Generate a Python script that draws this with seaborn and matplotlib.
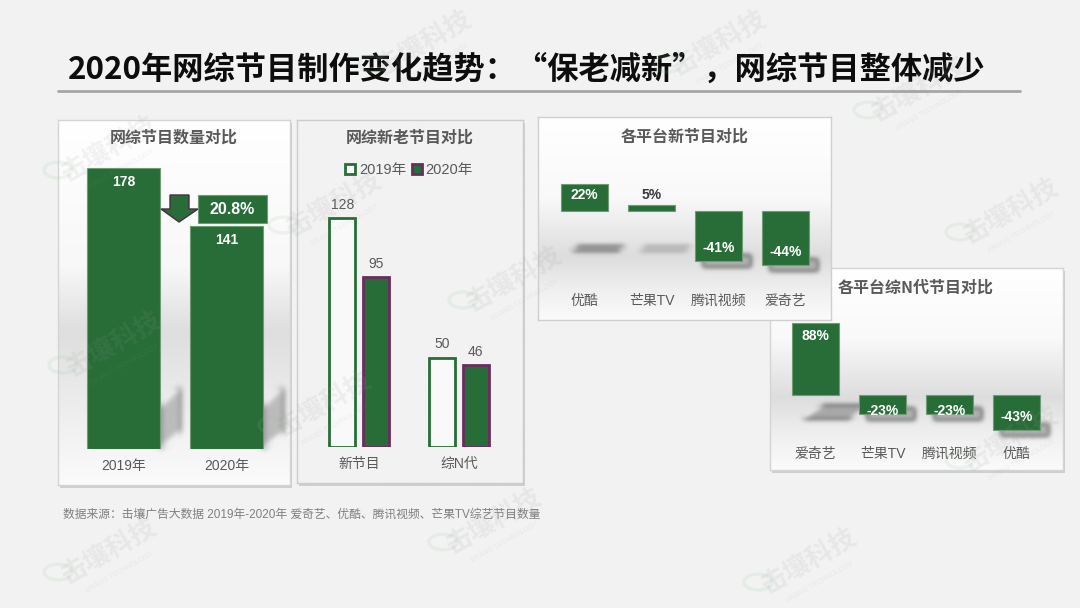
import numpy as np
import pandas as pd
import matplotlib
matplotlib.use("Agg")
import matplotlib.pyplot as plt
import seaborn as sns
from matplotlib.patches import Rectangle, Polygon, Patch, Circle
from matplotlib.lines import Line2D
from matplotlib.colors import LinearSegmentedColormap

# ---------------- data ----------------
title = "2020年网综节目制作变化趋势：“保老减新”，网综节目整体减少"

p1_title = "网综节目数量对比"
p1_years = ["2019年", "2020年"]
p1_counts = [178, 141]
p1_change = "20.8%"

p2_title = "网综新老节目对比"
p2_types = ["新节目", "综N代"]
p2_series = ["2019年", "2020年"]
p2_2019 = [128, 50]
p2_2020 = [95, 46]

p3_title = "各平台新节目对比"
p3_platforms = ["优酷", "芒果TV", "腾讯视频", "爱奇艺"]
p3_change = [22, 5, -41, -44]

p4_title = "各平台综N代节目对比"
p4_platforms = ["爱奇艺", "芒果TV", "腾讯视频", "优酷"]
p4_change = [88, -23, -23, -43]

source = "数据来源：击壤广告大数据 2019年-2020年 爱奇艺、优酷、腾讯视频、芒果TV综艺节目数量"
watermark = "击壤科技"
watermark_sub = "JIRANG TECHNOLOGY"

# ---------------- style ----------------
GREEN = "#286d38"
PURPLE = "#6b2c5e"
GRAY_TXT = "#595959"
W, H = 1080, 608

sns.set_theme(style="white")
plt.rcParams["font.family"] = ["Liberation Sans", "Noto Sans CJK SC", "DejaVu Sans"]
CJK = ["Noto Sans CJK SC", "DejaVu Sans"]

fig = plt.figure(figsize=(W / 100, H / 100), dpi=100)
fig.patch.set_facecolor("#f2f2f2")


def rect(x0, y0, x1, y1):
    return [x0 / W, 1 - y1 / H, (x1 - x0) / W, (y1 - y0) / H]


def fx(x):
    return x / W


def fy(y):
    return 1 - y / H


def gauss_blur(sigma):
    def filt(im, dpi):
        pad = int(np.ceil(3 * sigma))
        a = np.pad(im, ((pad, pad), (pad, pad), (0, 0)), mode="constant")
        xs = np.arange(-pad, pad + 1)
        k = np.exp(-xs ** 2 / (2 * sigma ** 2))
        k /= k.sum()
        o1 = np.zeros_like(a)
        for w, s in zip(k, xs):
            o1 += w * np.roll(a, s, axis=0)
        o2 = np.zeros_like(a)
        for w, s in zip(k, xs):
            o2 += w * np.roll(o1, s, axis=1)
        return o2, -pad, -pad
    return filt


def soft_shadow(ax, pts_px, color="#b0b0b0", sigma=3, alpha=1.0):
    """pts_px: polygon in screen pixels, y measured downward from figure top."""
    pts = [(fx(x), fy(y)) for x, y in pts_px]
    p = Polygon(pts, closed=True, transform=fig.transFigure, facecolor=color,
                edgecolor="none", alpha=alpha, zorder=0.5, clip_on=False)
    p.set_agg_filter(gauss_blur(sigma))
    ax.add_artist(p)


def bar_px(ax, bar):
    """Bar corners in screen pixels (y downward)."""
    (x0, y0), (x1, y1) = ax.transData.transform(
        [(bar.get_x(), bar.get_y()), (bar.get_x() + bar.get_width(), bar.get_y() + bar.get_height())])
    ya, yb = sorted([H - y0, H - y1])
    return x0, x1, ya, yb


def panel(x0, y0, x1, y1, stops, shadow=True, border="#d4d4d4"):
    if shadow:
        fig.add_artist(Rectangle((fx(x0 + 2), fy(y1 + 3)), (x1 - x0) / W, (y1 - y0) / H,
                                 transform=fig.transFigure, facecolor="#cfcfcf",
                                 edgecolor="none", zorder=-1))
    ax = fig.add_axes(rect(x0, y0, x1, y1))
    grad = np.linspace(0, 1, 256).reshape(-1, 1)
    cmap = LinearSegmentedColormap.from_list("bg", stops)
    ax.imshow(grad, cmap=cmap, aspect="auto", extent=[0, 1, 0, 1], origin="upper")
    ax.set_xticks([])
    ax.set_yticks([])
    for s in ax.spines.values():
        s.set_color(border)
        s.set_linewidth(1)
        s.set_visible(True)
    return ax


def bar_axes(x0, y0, x1, y1):
    ax = fig.add_axes(rect(x0, y0, x1, y1))
    ax.patch.set_alpha(0)
    return ax


def clean(ax, pad):
    for s in ax.spines.values():
        s.set_visible(False)
    ax.set_yticks([])
    ax.set_xlabel("")
    ax.set_ylabel("")
    ax.tick_params(axis="x", length=0, pad=pad, labelsize=10, labelcolor=GRAY_TXT)


def label_change(ax, vals, scale, fs=10):
    """Percent labels: ~13px inside the bar end, at least 16px from zero."""
    for bar, v in zip(ax.patches, vals):
        sgn = 1 if v >= 0 else -1
        yc = v - sgn * 13 / scale
        if abs(yc) < 16 / scale or np.sign(yc) != sgn:
            yc = sgn * 16 / scale
        inside = abs(yc) < abs(v)
        t = ax.text(bar.get_x() + bar.get_width() / 2, yc, f"{v}%", ha="center",
                    va="center", fontsize=fs, fontweight="bold",
                    color="white" if inside else "#3a3a3a")
        if inside:
            t.set_clip_path(bar)


def floor_shadows(ax, vals, pos_off, pos_h, pos_skew):
    for bar, v in zip(ax.patches, vals):
        x0, x1, ya, yb = bar_px(ax, bar)
        if v >= 0:
            base = yb + pos_off
            a = min(1.0, 0.35 + (yb - ya) / 40)
            soft_shadow(ax, [(x0 + 10, base), (x1 + 10, base), (x1 + 10 + pos_skew, base - pos_h),
                             (x0 + 10 + pos_skew, base - pos_h)], color="#a9a9a9", sigma=2.5, alpha=a)
        else:
            soft_shadow(ax, [(x0 + 8, yb - 6), (x1 + 9, yb - 6), (x1 + 9, yb + 6), (x0 + 8, yb + 6)],
                        color="#b4b4b4", sigma=2.5)


# ---------------- title ----------------
fig.text(fx(68), fy(70), title, ha="left", va="center", fontsize=22.5,
         fontweight="bold", family=CJK, color="#0d0d0d")
fig.add_artist(Line2D([fx(58), fx(1020)], [fy(91), fy(91)], color="#a6a6a6", lw=2))

# ---------------- panel 1 ----------------
bg1 = panel(58, 120, 290, 485,
            [(0, "#ffffff"), (0.4, "#f8f8f8"), (0.58, "#dedede"), (0.8, "#eeeeee"), (1, "#fbfbfb")])
bg1.text(0.5, 1 - 18 / 365, p1_title, transform=bg1.transAxes, ha="center", va="center",
         fontsize=11.5, fontweight="bold", color=GRAY_TXT, family=CJK)

s1 = 1.58
ax1 = bar_axes(72, 130, 278, 449)
sns.barplot(x=p1_years, y=p1_counts, ax=ax1, color=GREEN, saturation=1, width=0.709,
            edgecolor="#6f9c77", linewidth=0.8)
ax1.set_xlim(-0.5, 1.5)
ax1.set_ylim(0, (449 - 130) / s1)
clean(ax1, pad=7)
for bar, v in zip(ax1.patches, p1_counts):
    ax1.text(bar.get_x() + bar.get_width() / 2, v - 14 / s1, str(v), ha="center",
             va="center", fontsize=10, fontweight="bold", color="white")
    x0, x1, ya, yb = bar_px(ax1, bar)
    soft_shadow(ax1, [(x1, yb), (x1, yb - 42), (x1 + 20, yb - 62), (x1 + 20, yb - 18)],
                color="#bcbcbc", sigma=3)

# drop arrow + change box
arrow_px = [(170, 195), (189, 195), (189, 209), (198, 209), (179, 222), (161, 209), (170, 209)]
fig.add_artist(Polygon([(fx(x), fy(y)) for x, y in arrow_px], closed=True,
                       transform=fig.transFigure, facecolor=GREEN, edgecolor="#4a2a45",
                       lw=1, zorder=3))
fig.add_artist(Rectangle((fx(198), fy(223)), 69 / W, 28 / H, transform=fig.transFigure,
                         facecolor=GREEN, edgecolor="#6f9c77", lw=0.8, zorder=3))
fig.text(fx(232.5), fy(209), p1_change, ha="center", va="center", fontsize=11.5,
         fontweight="bold", color="white", zorder=4)

# ---------------- panel 2 ----------------
bg2 = panel(297, 120, 523, 483, [(0, "#f2f2f2"), (1, "#f2f2f2")], border="#cccccc")
bg2.text(0.5, 1 - 18 / 363, p2_title, transform=bg2.transAxes, ha="center", va="center",
         fontsize=11.5, fontweight="bold", color=GRAY_TXT, family=CJK)

df2 = pd.DataFrame({
    "type": p2_types * 2,
    "year": [p2_series[0]] * len(p2_types) + [p2_series[1]] * len(p2_types),
    "value": p2_2019 + p2_2020,
})
s2 = 1.79
ax2 = bar_axes(309, 190, 509, 447)
sns.barplot(data=df2, x="type", y="value", hue="year", ax=ax2, palette=[GREEN, GREEN],
            saturation=1, width=0.67, gap=0.22, legend=False)
ax2.set_xlim(-0.5, 1.5)
ax2.set_ylim(0, (447 - 190) / s2)
clean(ax2, pad=7)
for bar in ax2.containers[0]:
    bar.set_facecolor("#f9f9f9")
    bar.set_edgecolor(GREEN)
    bar.set_linewidth(2)
for bar in ax2.containers[1]:
    bar.set_edgecolor(PURPLE)
    bar.set_linewidth(2)
for cont, vals in zip(ax2.containers, [p2_2019, p2_2020]):
    for bar, v in zip(cont, vals):
        ax2.text(bar.get_x() + bar.get_width() / 2, v + 13 / s2, str(v), ha="center",
                 va="center", fontsize=10, color=GRAY_TXT)
ax2.legend(handles=[Patch(facecolor="#f9f9f9", edgecolor=GREEN, lw=2, label=p2_series[0]),
                    Patch(facecolor=GREEN, edgecolor=PURPLE, lw=2, label=p2_series[1])],
           loc="center", bbox_to_anchor=(fx(409), fy(170)), bbox_transform=fig.transFigure,
           ncol=2, frameon=False, handlelength=0.7, handleheight=0.7, handletextpad=0.25,
           columnspacing=0.4, fontsize=10.5, labelcolor=GRAY_TXT, borderpad=0)

# ---------------- panel 4 (drawn below panel 3) ----------------
bg4 = panel(770, 268, 1063, 470,
            [(0, "#ffffff"), (0.35, "#f9f9f9"), (0.64, "#dddddd"), (0.82, "#efefef"), (1, "#fbfbfb")])
bg4.text((916 - 770) / 293, 1 - 20 / 202, p4_title, transform=bg4.transAxes,
         ha="center", va="center", fontsize=11.5, fontweight="bold", color=GRAY_TXT, family=CJK)
s4 = 0.82
ax4 = bar_axes(782, 310, 1050, 441)
sns.barplot(x=p4_platforms, y=p4_change, ax=ax4, color=GREEN, saturation=1, width=0.70,
            edgecolor="#6f9c77", linewidth=0.8)
ax4.set_xlim(-0.5, 3.5)
ax4.set_ylim(-(441 - 395) / s4, (395 - 310) / s4)
clean(ax4, pad=4)
floor_shadows(ax4, p4_change, pos_off=24, pos_h=14, pos_skew=22)
label_change(ax4, p4_change, s4)

# ---------------- panel 3 ----------------
bg3 = panel(538, 117, 831, 320,
            [(0, "#ffffff"), (0.4, "#f9f9f9"), (0.69, "#dddddd"), (0.85, "#efefef"), (1, "#fbfbfb")],
            shadow=False, border="#cfcfcf")
bg3.text(0.5, 1 - 20 / 203, p3_title, transform=bg3.transAxes, ha="center", va="center",
         fontsize=11.5, fontweight="bold", color=GRAY_TXT, family=CJK)
s3 = 1.22
ax3 = bar_axes(551, 160, 819, 288)
sns.barplot(x=p3_platforms, y=p3_change, ax=ax3, color=GREEN, saturation=1, width=0.70,
            edgecolor="#6f9c77", linewidth=0.8)
ax3.set_xlim(-0.5, 3.5)
ax3.set_ylim(-(288 - 211) / s3, (211 - 160) / s3)
clean(ax3, pad=4)
floor_shadows(ax3, p3_change, pos_off=40, pos_h=5, pos_skew=8)
label_change(ax3, p3_change, s3)

# ---------------- source ----------------
fig.text(fx(63), fy(515), source, ha="left", va="center", fontsize=8.5, color="#7f7f7f")

# ---------------- watermarks (faint) ----------------
wm_pos = [(110, 150), (425, 44), (720, 44), (920, 90), (1012, 212), (115, 345), (335, 205),
          (515, 280), (325, 405), (1012, 440), (110, 552), (495, 522), (810, 562)]
for (x, y) in wm_pos:
    fig.text(fx(x), fy(y), watermark, ha="center", va="center", rotation=30, fontsize=19,
             fontweight="bold", family=CJK, color="#9a9a9a", alpha=0.12, zorder=10)
    fig.text(fx(x + 10), fy(y + 20), watermark_sub, ha="center", va="center", rotation=30,
             fontsize=5, color="#9a9a9a", alpha=0.12, zorder=10)
    fig.add_artist(Circle((fx(x - 52), fy(y + 20)), 14 / W, transform=fig.transFigure,
                          facecolor="none", edgecolor="#8fbf8f", lw=2.5, alpha=0.12, zorder=10))

fig.savefig("out.png", dpi=100, facecolor=fig.get_facecolor())
